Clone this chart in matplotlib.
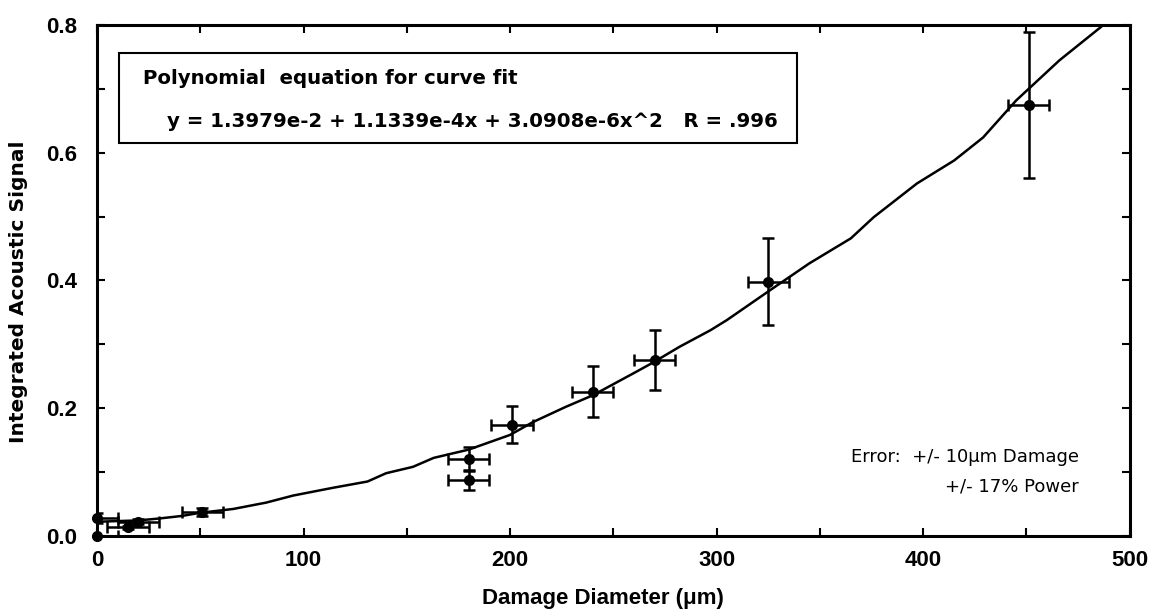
import matplotlib.pyplot as plt
from matplotlib.ticker import MultipleLocator

# 1. Data
diameter = [0, 0, 15, 20, 51, 180, 180, 201, 240, 270, 325, 451]
signal = [0.0, 0.028, 0.013, 0.022, 0.037, 0.12, 0.087, 0.174, 0.226, 0.276, 0.398, 0.675]
signal_err = [0.0, 0.008, 0.003, 0.004, 0.006, 0.019, 0.016, 0.029, 0.040, 0.047, 0.068, 0.115]
diameter_err = [10, 10, 10, 10, 10, 10, 10, 10, 10, 10, 10, 10]

# fitted curve
fit_x = [0, 20, 30, 41, 50, 66, 82, 95, 114, 131, 140, 153, 163, 180, 200, 211,
         227, 240, 260, 269, 282, 297, 305, 326, 345, 365, 376, 397, 415, 429,
         445, 466, 486]
fit_y = [0.022, 0.024, 0.027, 0.031, 0.036, 0.042, 0.052, 0.063, 0.075, 0.085,
         0.098, 0.108, 0.122, 0.135, 0.158, 0.178, 0.202, 0.220, 0.255, 0.271,
         0.296, 0.322, 0.338, 0.385, 0.427, 0.466, 0.499, 0.552, 0.588, 0.624,
         0.682, 0.745, 0.797]

plt.rcParams["font.family"] = ["Liberation Sans", "DejaVu Sans"]
wide = ["DejaVu Sans"]

# 2. Figure
fig = plt.figure(figsize=(11.54, 6.13), dpi=100)
ax = fig.add_axes([0.084, 0.126, 0.895, 0.833])

ax.plot(fit_x, fit_y, color="black", lw=1.8)
ax.errorbar(diameter, signal, xerr=diameter_err, yerr=signal_err, fmt="none",
            ecolor="black", elinewidth=1.8, capsize=4, capthick=1.8)
ax.plot(diameter, signal, "o", color="black", ms=7, clip_on=False, zorder=5)

ax.set_xlim(0, 500)
ax.set_ylim(0, 0.8)
ax.xaxis.set_major_locator(MultipleLocator(100))
ax.xaxis.set_minor_locator(MultipleLocator(50))
ax.yaxis.set_major_locator(MultipleLocator(0.2))
ax.yaxis.set_minor_locator(MultipleLocator(0.1))
ax.yaxis.set_major_formatter(plt.FormatStrFormatter("%.1f"))

ax.tick_params(which="both", direction="in", top=True, right=True,
               length=6, width=1.5)
ax.tick_params(axis="x", pad=10, labelsize=16)
ax.tick_params(axis="y", pad=14, labelsize=16)
for lab in ax.get_xticklabels() + ax.get_yticklabels():
    lab.set_fontweight("bold")
for sp in ax.spines.values():
    sp.set_linewidth(2.2)

ax.set_xlabel("Damage Diameter (\u03bcm)", fontsize=16, fontweight="bold")
ax.xaxis.set_label_coords(0.49, -0.103)
ax.set_ylabel("Integrated Acoustic Signal", fontsize=14.5, fontweight="bold", family=wide)
ax.yaxis.set_label_coords(-0.067, 0.477)

# 3. Equation box
box = plt.Rectangle((0.021, 0.769), 0.657, 0.176, transform=ax.transAxes,
                    fill=False, edgecolor="black", lw=1.5)
ax.add_patch(box)
ax.text(0.045, 0.896, "Polynomial  equation for curve fit", transform=ax.transAxes,
        fontsize=14.2, fontweight="bold", va="center", family=wide)
ax.text(0.068, 0.812, "y = 1.3979e-2 + 1.1339e-4x + 3.0908e-6x^2   R = .996",
        transform=ax.transAxes, fontsize=14.2, fontweight="bold", va="center", family=wide)

# 4. Error note
ax.text(0.951, 0.155, "Error:  +/- 10\u03bcm Damage", transform=ax.transAxes,
        fontsize=13, ha="right", va="center", family=wide)
ax.text(0.951, 0.096, "+/- 17% Power", transform=ax.transAxes,
        fontsize=13, ha="right", va="center", family=wide)

plt.savefig("out.png", dpi=100)
plt.close()
